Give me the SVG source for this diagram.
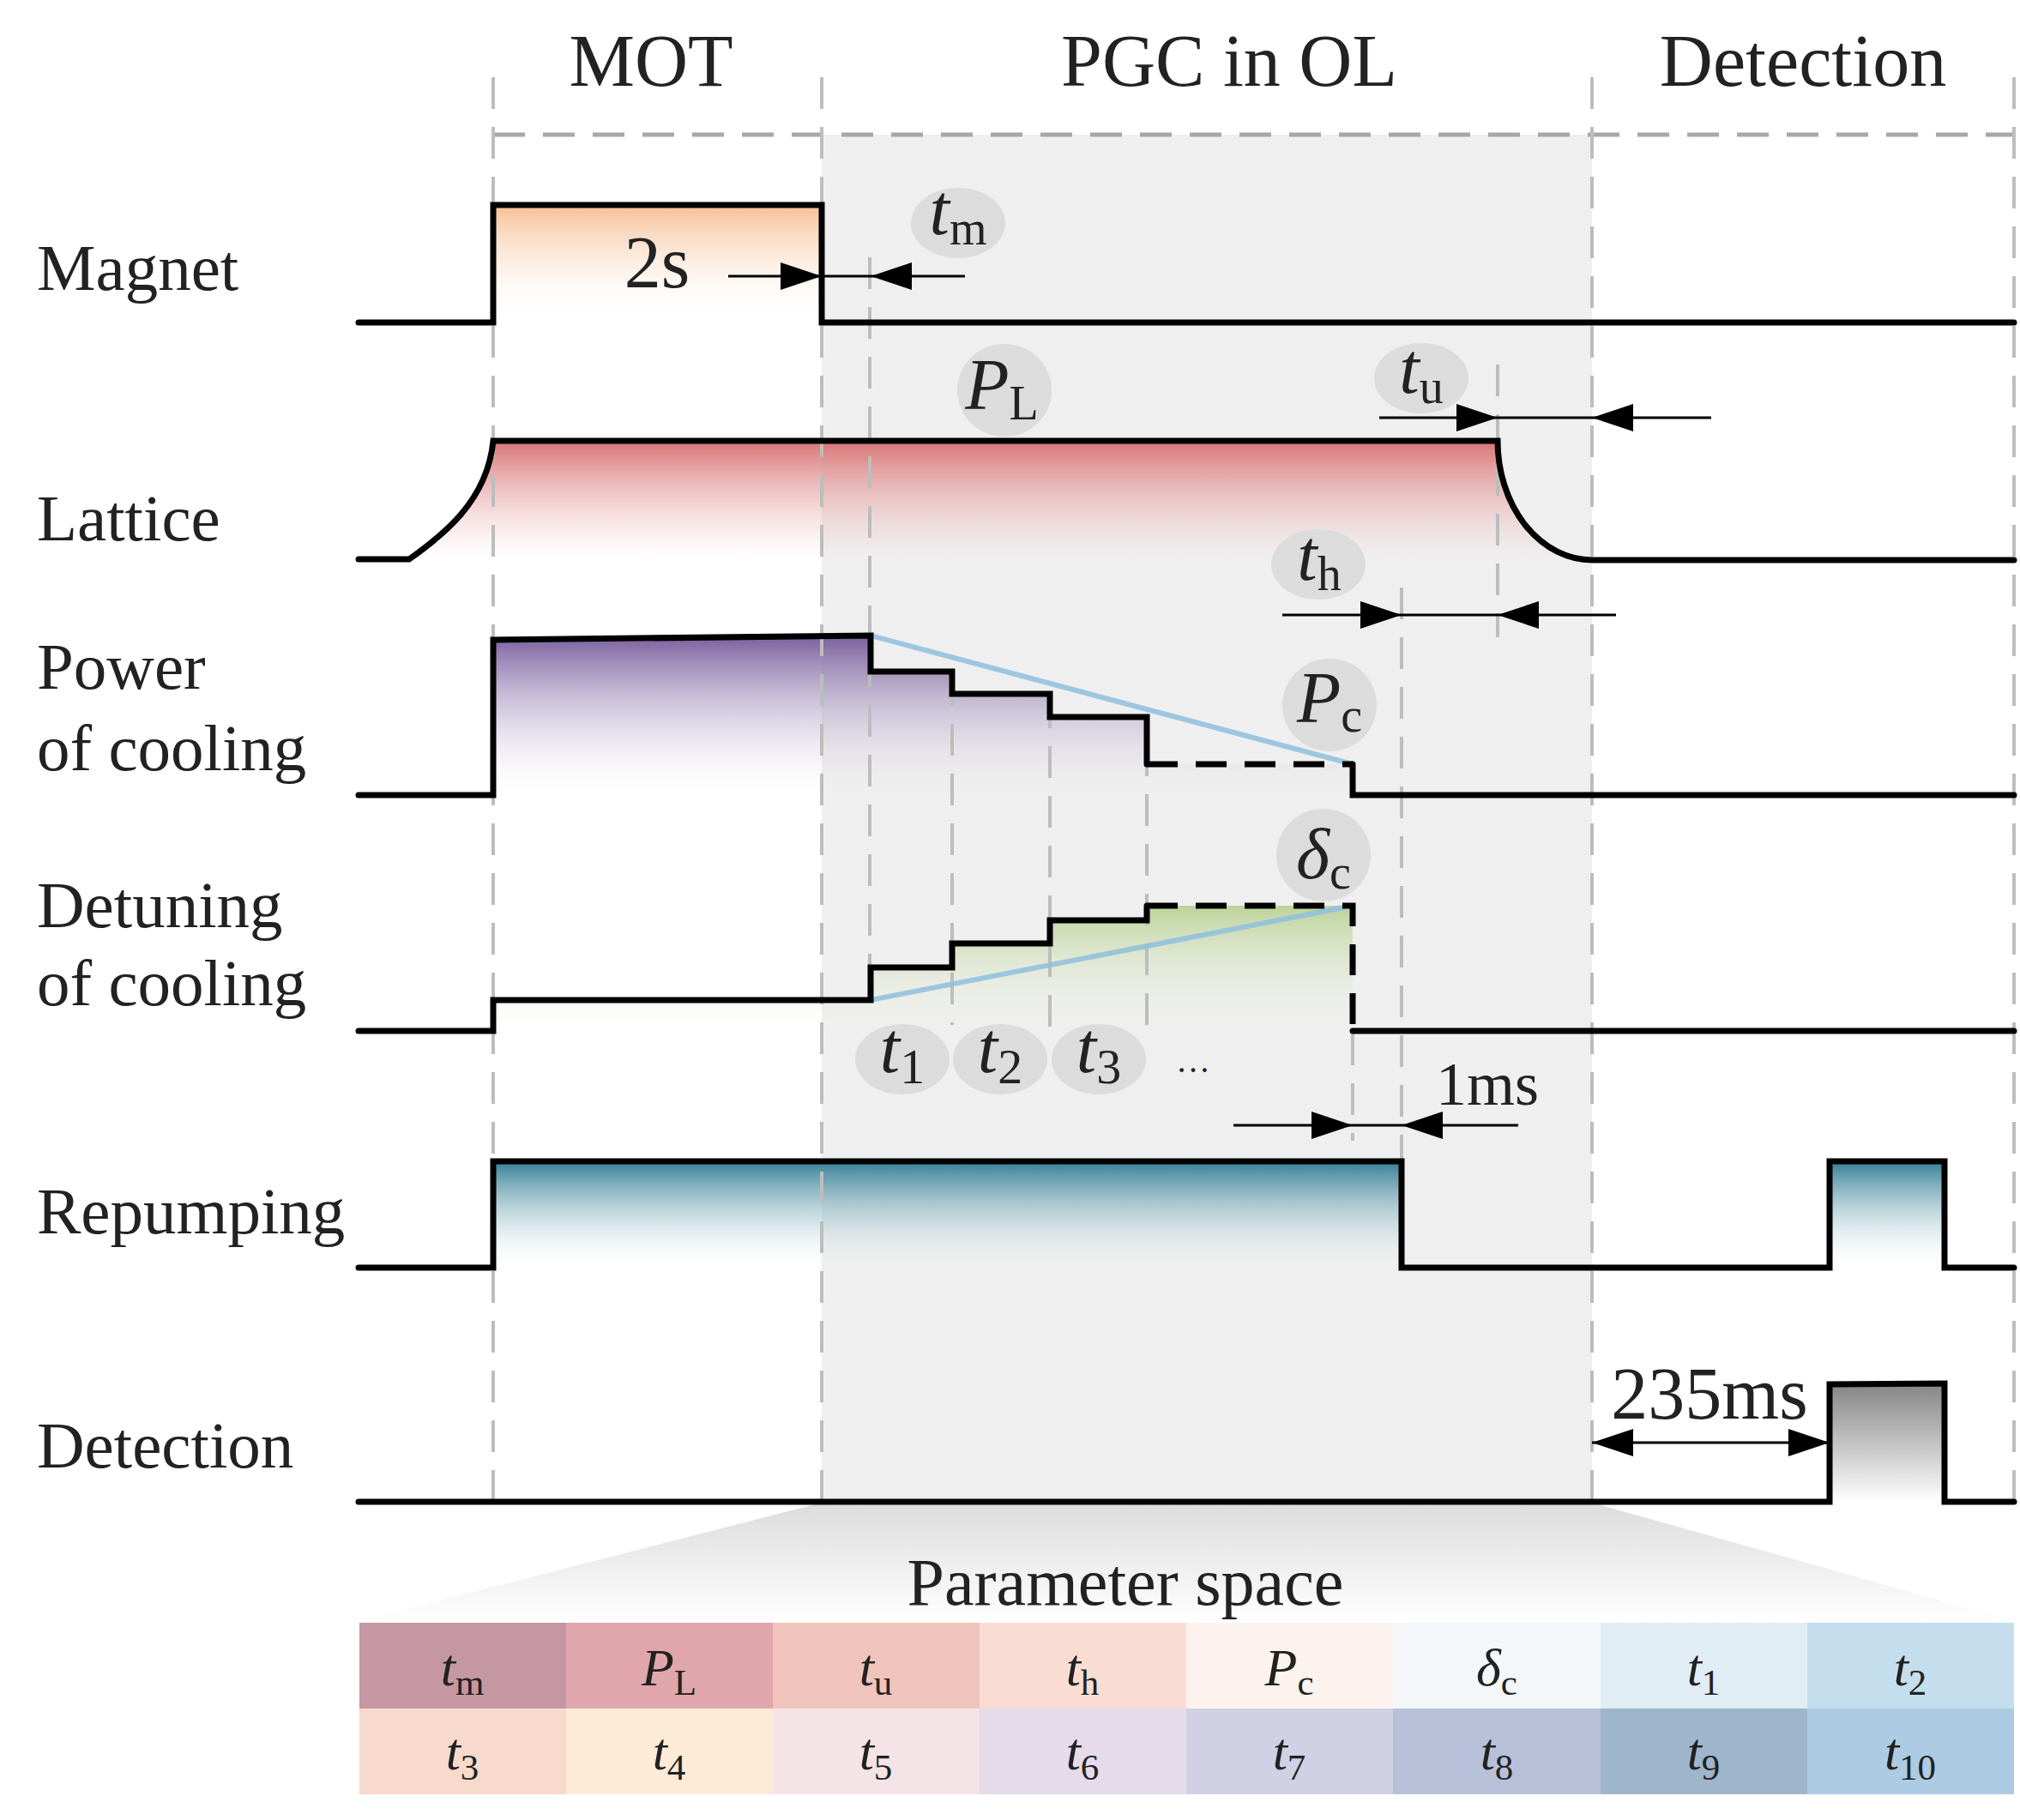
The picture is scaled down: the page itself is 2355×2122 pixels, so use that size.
<svg xmlns="http://www.w3.org/2000/svg" width="2355" height="2122" viewBox="0 0 2355 2122">
<style>
text{font-family:"Liberation Serif","Times New Roman",serif;fill:#222}
.title{font-size:86px;text-anchor:middle}
.lab{font-size:77px}
.num{font-size:86px;text-anchor:middle}
.bub{font-size:84px;text-anchor:middle}
.cell{font-size:62px;text-anchor:middle}
.it{font-style:italic}
.sig{fill:none;stroke:#000;stroke-width:7;stroke-linejoin:miter;stroke-linecap:round}
.sigd{fill:none;stroke:#000;stroke-width:7;stroke-dasharray:36 21}
.grid{stroke:#bdbdbd;stroke-width:4;stroke-dasharray:37 21;fill:none}
.dim{stroke:#000;stroke-width:3;fill:none}
.bubble{fill:#dcdcdc}
.ramp{stroke:#8fc0de;stroke-width:6;opacity:0.85}
</style>
<defs>
<marker id="ah" viewBox="0 0 48 32" refX="48" refY="16" markerWidth="48" markerHeight="32" markerUnits="userSpaceOnUse" orient="auto"><path d="M0,0 L48,16 L0,32 Z" fill="#000"/></marker>
<marker id="ah2" viewBox="0 0 48 32" refX="48" refY="16" markerWidth="48" markerHeight="32" markerUnits="userSpaceOnUse" orient="auto-start-reverse"><path d="M0,0 L48,16 L0,32 Z" fill="#000"/></marker>
<linearGradient id="gMag" x1="0" y1="0" x2="0" y2="1"><stop offset="0" stop-color="#f6bf94"/><stop offset="1" stop-color="#fff" stop-opacity="0"/></linearGradient>
<linearGradient id="gLat" x1="0" y1="0" x2="0" y2="1"><stop offset="0" stop-color="#d87474"/><stop offset="1" stop-color="#f4caca" stop-opacity="0"/></linearGradient>
<linearGradient id="gPow" x1="0" y1="0" x2="0" y2="1"><stop offset="0" stop-color="#7a5f9d"/><stop offset="1" stop-color="#ece8f2" stop-opacity="0"/></linearGradient>
<linearGradient id="gDet" x1="0" y1="0" x2="0" y2="1"><stop offset="0" stop-color="#bdd39a"/><stop offset="1" stop-color="#f0f4e8" stop-opacity="0"/></linearGradient>
<linearGradient id="gRep" x1="0" y1="0" x2="0" y2="1"><stop offset="0" stop-color="#357f96"/><stop offset="1" stop-color="#e8f0f3" stop-opacity="0"/></linearGradient>
<linearGradient id="gDetc" x1="0" y1="0" x2="0" y2="1"><stop offset="0" stop-color="#858585"/><stop offset="1" stop-color="#ffffff"/></linearGradient>
<linearGradient id="gTrap" x1="0" y1="0" x2="0" y2="1"><stop offset="0" stop-color="#dcdcdc"/><stop offset="1" stop-color="#ffffff"/></linearGradient>
</defs>

<g id="background">
<rect x="958" y="157" width="898" height="1595" fill="#efefef"/>
<polygon points="958,1752 1856,1752 2348,1890 419,1890" fill="url(#gTrap)"/>
</g>

<g id="fills">
<rect x="575" y="239" width="383" height="137" fill="url(#gMag)"/>
<path d="M477,652 C515,625 568,585 575,514 L1746,514 A110,139 0 0 0 1856,653 Z" fill="url(#gLat)"/>
<polygon points="575,746 1015,741 1015,783 1110,783 1110,809 1224,809 1224,836 1337,836 1337,891 1577,891 1577,927 575,927" fill="url(#gPow)"/>
<polygon points="575,1166 1015,1166 1015,1128 1110,1128 1110,1100 1224,1100 1224,1073 1337,1073 1337,1056 1577,1056 1577,1202 575,1202" fill="url(#gDet)"/>
<rect x="575" y="1354" width="1059" height="124" fill="url(#gRep)"/>
<rect x="2133" y="1354" width="134" height="124" fill="url(#gRep)"/>
<polygon points="2133,1614 2267,1613 2267,1751 2133,1751" fill="url(#gDetc)"/>
</g>

<g id="gridlines">
<line x1="575" y1="157" x2="2348" y2="157" stroke="#a8a8a8" stroke-width="5" stroke-dasharray="37 21"/>
<line class="grid" x1="575" y1="90" x2="575" y2="1751"/>
<line class="grid" x1="958" y1="90" x2="958" y2="1751"/>
<line class="grid" x1="1856" y1="90" x2="1856" y2="1751"/>
<line class="grid" x1="2348" y1="90" x2="2348" y2="1751"/>
<line class="grid" x1="1014" y1="300" x2="1014" y2="1166"/>
<line class="grid" x1="1110" y1="786" x2="1110" y2="1195"/>
<line class="grid" x1="1224" y1="812" x2="1224" y2="1200"/>
<line class="grid" x1="1337" y1="868" x2="1337" y2="1200"/>
<line class="grid" x1="1577" y1="1205" x2="1577" y2="1330"/>
<line class="grid" x1="1634" y1="685" x2="1634" y2="1354"/>
<line class="grid" x1="1746" y1="425" x2="1746" y2="743"/>
</g>

<g id="bubbles">
<ellipse class="bubble" cx="1117" cy="260" rx="55" ry="41"/>
<ellipse class="bubble" cx="1171" cy="455" rx="55" ry="54"/>
<ellipse class="bubble" cx="1657" cy="441" rx="55" ry="41"/>
<ellipse class="bubble" cx="1537" cy="658" rx="55" ry="41"/>
<ellipse class="bubble" cx="1550" cy="822" rx="55" ry="54"/>
<ellipse class="bubble" cx="1543" cy="997" rx="55" ry="54"/>
<ellipse class="bubble" cx="1052" cy="1235" rx="55" ry="41"/>
<ellipse class="bubble" cx="1166" cy="1235" rx="55" ry="41"/>
<ellipse class="bubble" cx="1281" cy="1235" rx="55" ry="41"/>
</g>

<g id="ramps">
<line class="ramp" x1="1015" y1="741" x2="1577" y2="891"/>
<line class="ramp" x1="1015" y1="1166" x2="1577" y2="1056"/>
</g>

<g id="signals">
<path id="sig-magnet" class="sig" d="M418,376 L575,376 L575,239 L958,239 L958,376 L2348,376"/>
<path id="sig-lattice" class="sig" d="M418,652 L477,652 C515,625 568,585 575,514 L1746,514 A110,139 0 0 0 1856,653 L2348,653"/>
<path id="sig-power" class="sig" d="M418,927 L575,927 L575,746 L1015,741 L1015,783 L1110,783 L1110,809 L1224,809 L1224,836 L1337,836 L1337,891"/>
<path class="sigd" d="M1337,891 L1577,891"/>
<path class="sig" d="M1577,891 L1577,927 L2348,927"/>
<path id="sig-detuning" class="sig" d="M418,1202 L575,1202 L575,1166 L1015,1166 L1015,1128 L1110,1128 L1110,1100 L1224,1100 L1224,1073 L1337,1073 L1337,1056"/>
<path class="sigd" d="M1337,1056 L1577,1056 L1577,1202"/>
<path class="sig" d="M1577,1202 L2348,1202"/>
<path id="sig-repump" class="sig" d="M418,1478 L575,1478 L575,1354 L1634,1354 L1634,1478 L2133,1478 L2133,1354 L2267,1354 L2267,1478 L2348,1478"/>
<path id="sig-detect" class="sig" d="M418,1751 L2133,1751 L2133,1614 L2267,1613 L2267,1751 L2348,1751"/>
</g>

<g id="connectors">
<line class="dim" x1="849" y1="322" x2="958" y2="322" marker-end="url(#ah)"/>
<line class="dim" x1="958" y1="322" x2="1015" y2="322"/>
<line class="dim" x1="1125" y1="322" x2="1015" y2="322" marker-end="url(#ah)"/>
<line class="dim" x1="1608" y1="487" x2="1746" y2="487" marker-end="url(#ah)"/>
<line class="dim" x1="1746" y1="487" x2="1856" y2="487"/>
<line class="dim" x1="1995" y1="487" x2="1856" y2="487" marker-end="url(#ah)"/>
<line class="dim" x1="1495" y1="717" x2="1634" y2="717" marker-end="url(#ah)"/>
<line class="dim" x1="1634" y1="717" x2="1746" y2="717"/>
<line class="dim" x1="1884" y1="717" x2="1746" y2="717" marker-end="url(#ah)"/>
<line class="dim" x1="1438" y1="1312" x2="1577" y2="1312" marker-end="url(#ah)"/>
<line class="dim" x1="1577" y1="1312" x2="1634" y2="1312"/>
<line class="dim" x1="1770" y1="1312" x2="1634" y2="1312" marker-end="url(#ah)"/>
<line class="dim" x1="1856" y1="1682" x2="2133" y2="1682" marker-start="url(#ah2)" marker-end="url(#ah2)"/>
</g>

<g id="titles">
<text class="title" x="759" y="100">MOT</text>
<text class="title" x="1433" y="100">PGC in OL</text>
<text class="title" x="2102" y="100">Detection</text>
</g>

<g id="labels">
<text class="lab" x="43" y="338">Magnet</text>
<text class="lab" x="43" y="630">Lattice</text>
<text class="lab" x="43" y="803">Power</text>
<text class="lab" x="43" y="898">of cooling</text>
<text class="lab" x="43" y="1081">Detuning</text>
<text class="lab" x="43" y="1172">of cooling</text>
<text class="lab" x="43" y="1438">Repumping</text>
<text class="lab" x="43" y="1711">Detection</text>
</g>

<g id="annotations">
<text class="num" x="766" y="335">2s</text>
<text class="num" x="1734" y="1288" style="font-size:72px">1ms</text>
<text class="num" x="1993" y="1654">235ms</text>
<text x="1391" y="1250" style="font-size:40px;text-anchor:middle">…</text>
<text class="bub" x="1117" y="273"><tspan class="it">t</tspan><tspan font-size="56" dy="12">m</tspan></text>
<text class="bub" x="1168" y="477"><tspan class="it">P</tspan><tspan font-size="56" dy="12">L</tspan></text>
<text class="bub" x="1657" y="458"><tspan class="it">t</tspan><tspan font-size="56" dy="12">u</tspan></text>
<text class="bub" x="1538" y="676"><tspan class="it">t</tspan><tspan font-size="56" dy="12">h</tspan></text>
<text class="bub" x="1550" y="842"><tspan class="it">P</tspan><tspan font-size="56" dy="11">c</tspan></text>
<text class="bub" x="1543" y="1024"><tspan class="it">δ</tspan><tspan font-size="56" dy="12">c</tspan></text>
<text class="bub" x="1052" y="1250"><tspan class="it">t</tspan><tspan font-size="58" dy="13">1</tspan></text>
<text class="bub" x="1166" y="1250"><tspan class="it">t</tspan><tspan font-size="58" dy="13">2</tspan></text>
<text class="bub" x="1281" y="1250"><tspan class="it">t</tspan><tspan font-size="58" dy="13">3</tspan></text>
</g>

<g id="parameter-space">
<text x="1312" y="1871" style="font-size:78px;text-anchor:middle">Parameter space</text>
<rect x="419" y="1892" width="241" height="100" fill="#c497a2"/>
<rect x="660" y="1892" width="241" height="100" fill="#e1a6ab"/>
<rect x="901" y="1892" width="241" height="100" fill="#f0c4bc"/>
<rect x="1142" y="1892" width="241" height="100" fill="#f9ddd3"/>
<rect x="1383" y="1892" width="241" height="100" fill="#fdf3ee"/>
<rect x="1624" y="1892" width="242" height="100" fill="#f3f7fa"/>
<rect x="1866" y="1892" width="241" height="100" fill="#e0edf5"/>
<rect x="2107" y="1892" width="241" height="100" fill="#c5deed"/>
<rect x="419" y="1992" width="241" height="100" fill="#f7dacc"/>
<rect x="660" y="1992" width="241" height="100" fill="#fdebd8"/>
<rect x="901" y="1992" width="241" height="100" fill="#f4e4e8"/>
<rect x="1142" y="1992" width="241" height="100" fill="#e6dbea"/>
<rect x="1383" y="1992" width="241" height="100" fill="#d0d1e5"/>
<rect x="1624" y="1992" width="242" height="100" fill="#b8c0d9"/>
<rect x="1866" y="1992" width="241" height="100" fill="#9fb5cc"/>
<rect x="2107" y="1992" width="241" height="100" fill="#adcbe2"/>
<text class="cell" x="539" y="1965"><tspan class="it">t</tspan><tspan font-size="43" dy="11">m</tspan></text>
<text class="cell" x="780" y="1965"><tspan class="it">P</tspan><tspan font-size="43" dy="11">L</tspan></text>
<text class="cell" x="1021" y="1965"><tspan class="it">t</tspan><tspan font-size="43" dy="11">u</tspan></text>
<text class="cell" x="1262" y="1965"><tspan class="it">t</tspan><tspan font-size="43" dy="11">h</tspan></text>
<text class="cell" x="1503" y="1965"><tspan class="it">P</tspan><tspan font-size="43" dy="11">c</tspan></text>
<text class="cell" x="1745" y="1965"><tspan class="it">δ</tspan><tspan font-size="43" dy="11">c</tspan></text>
<text class="cell" x="1986" y="1965"><tspan class="it">t</tspan><tspan font-size="43" dy="11">1</tspan></text>
<text class="cell" x="2227" y="1965"><tspan class="it">t</tspan><tspan font-size="43" dy="11">2</tspan></text>
<text class="cell" x="539" y="2063"><tspan class="it">t</tspan><tspan font-size="43" dy="12">3</tspan></text>
<text class="cell" x="780" y="2063"><tspan class="it">t</tspan><tspan font-size="43" dy="12">4</tspan></text>
<text class="cell" x="1021" y="2063"><tspan class="it">t</tspan><tspan font-size="43" dy="12">5</tspan></text>
<text class="cell" x="1262" y="2063"><tspan class="it">t</tspan><tspan font-size="43" dy="12">6</tspan></text>
<text class="cell" x="1503" y="2063"><tspan class="it">t</tspan><tspan font-size="43" dy="12">7</tspan></text>
<text class="cell" x="1745" y="2063"><tspan class="it">t</tspan><tspan font-size="43" dy="12">8</tspan></text>
<text class="cell" x="1986" y="2063"><tspan class="it">t</tspan><tspan font-size="43" dy="12">9</tspan></text>
<text class="cell" x="2227" y="2063"><tspan class="it">t</tspan><tspan font-size="43" dy="12">10</tspan></text>
</g>
</svg>
